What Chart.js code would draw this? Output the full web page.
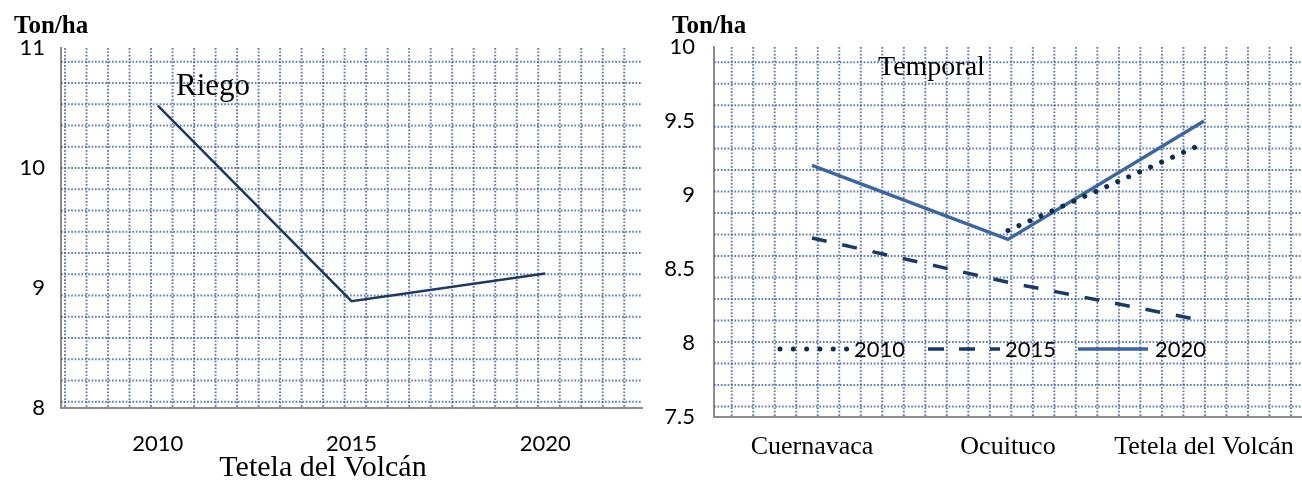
<!DOCTYPE html>
<html><head><meta charset="utf-8">
<script src="https://cdn.jsdelivr.net/npm/chart.js@4.4.1/dist/chart.umd.min.js"></script>
<style>
html,body{margin:0;padding:0;background:#fff;}
#wrap{position:relative;width:1302px;height:493px;overflow:hidden;background:#fff;}
.box{position:absolute;top:0;height:493px;}
#b1{left:0;width:660px;} #b2{left:660px;width:642px;}
</style></head><body>
<div id="wrap"><div class="box" id="b1"><canvas id="c1"></canvas></div><div class="box" id="b2"><canvas id="c2"></canvas></div></div>
<script>
// ---- data ----
const riegoYears = ['2010', '2015', '2020'];
const riegoValues = [10.52, 8.89, 9.12];
const riegoTicks = [8, 9, 10, 11];

const temporalPlaces = ['Cuernavaca', 'Ocuituco', 'Tetela del Volcán'];
const temporal2010 = [null, 8.76, 9.35];
const temporal2015 = [8.71, 8.41, 8.15];
const temporal2020 = [9.20, 8.70, 9.50];
const seriesNames = ['2010', '2015', '2020'];
const temporalTicks = [7.5, 8, 8.5, 9, 9.5, 10];

// ---- plugins ----
const graphPaper = {
  id: 'graphPaper',
  beforeDatasetsDraw(chart, args, o) {
    const {ctx, chartArea: a} = chart;
    ctx.save();
    ctx.beginPath(); ctx.rect(a.left, a.top, a.right - a.left, a.bottom - a.top); ctx.clip();
    ctx.strokeStyle = o.color; ctx.lineWidth = o.width; ctx.setLineDash(o.dash);
    for (let x = o.x0; x < a.right; x += o.stepX) {
      ctx.beginPath(); ctx.moveTo(x, a.top); ctx.lineTo(x, a.bottom); ctx.stroke();
    }
    for (let y = o.y0; y < a.bottom; y += o.stepY) {
      ctx.beginPath(); ctx.moveTo(a.left, y); ctx.lineTo(a.right, y); ctx.stroke();
    }
    ctx.restore();
  }
};
const texts = {
  id: 'texts',
  afterDraw(chart, args, o) {
    const ctx = chart.ctx;
    ctx.save();
    (o.items || []).forEach(t => {
      ctx.font = t.font; ctx.fillStyle = '#000'; ctx.textAlign = t.align || 'left'; ctx.textBaseline = 'alphabetic';
      ctx.fillText(t.text, t.x, t.y);
    });
    ctx.restore();
  }
};
const inlineLegend = {
  id: 'inlineLegend',
  afterDatasetsDraw(chart, args, o) {
    if (!o.items) return;
    const ctx = chart.ctx;
    ctx.save();
    chart.data.datasets.forEach((ds, i) => {
      const it = o.items[i];
      ctx.strokeStyle = ds.borderColor; ctx.lineWidth = ds.borderWidth;
      ctx.lineCap = ds.borderCapStyle || 'butt';
      ctx.setLineDash(it.dash || ds.borderDash || []);
      ctx.beginPath(); ctx.moveTo(it.x1, o.y); ctx.lineTo(it.x2, o.y); ctx.stroke();
      ctx.setLineDash([]);
      ctx.font = o.font; ctx.fillStyle = '#000'; ctx.textAlign = 'left'; ctx.textBaseline = 'middle';
      ctx.fillText(ds.label, it.tx, o.y + 1);
    });
    ctx.restore();
  }
};

const tickFont = {family: 'Lato', size: 22};
const axisBorder = {display: true, color: '#8c8c8c', width: 2};
const fmt = v => String(v);
const paperStyle = {color: 'rgba(58,92,148,0.78)', width: 2, dash: [1.7, 1.7]};
const noSidePad = s => { s.paddingLeft = 0; s.paddingRight = 0; };

// ---- left chart: Riego ----
new Chart(document.getElementById('c1'), {
  type: 'line',
  data: {
    labels: riegoYears,
    datasets: [{
      label: 'Riego', data: riegoValues,
      borderColor: '#1f3861', borderWidth: 2.5, pointRadius: 0, tension: 0
    }]
  },
  options: {
    responsive: true, maintainAspectRatio: false, animation: false, devicePixelRatio: 1,
    layout: {padding: {top: 48, right: 18, left: 0, bottom: 0}},
    plugins: {
      legend: {display: false}, tooltip: {enabled: false},
      graphPaper: Object.assign({x0: 65, stepX: 21.51, y0: 61.7, stepY: 21.25}, paperStyle),
      texts: {items: [
        {text: 'Ton/ha', x: 14, y: 33, font: 'bold 25px "Liberation Serif"'},
        {text: 'Riego', x: 176, y: 95, font: '31px "Liberation Serif"'},
        {text: 'Tetela del Volcán', x: 323, y: 476, align: 'center', font: '30px "Liberation Serif"'}
      ]}
    },
    scales: {
      x: {
        type: 'category', offset: true,
        grid: {display: false, drawTicks: false}, border: axisBorder,
        ticks: {font: tickFont, color: '#000', padding: 23},
        afterFit: s => { s.height = 85; noSidePad(s); }
      },
      y: {
        min: 8, max: 11,
        grid: {display: false, drawTicks: false}, border: axisBorder,
        ticks: {font: tickFont, color: '#000', padding: 16, callback: fmt},
        afterBuildTicks: s => { s.ticks = riegoTicks.map(v => ({value: v})); },
        afterFit: s => { s.width = 61; }
      }
    }
  },
  plugins: [graphPaper, texts]
});

// ---- right chart: Temporal ----
new Chart(document.getElementById('c2'), {
  type: 'line',
  data: {
    labels: temporalPlaces,
    datasets: [
      {label: seriesNames[0], data: temporal2010, borderColor: '#112b4d', borderWidth: 5, borderDash: [0.01, 12], borderCapStyle: 'round', pointRadius: 0, tension: 0, spanGaps: false},
      {label: seriesNames[1], data: temporal2015, borderColor: '#1b3a63', borderWidth: 3.5, borderDash: [15, 16], pointRadius: 0, tension: 0},
      {label: seriesNames[2], data: temporal2020, borderColor: '#3e659c', borderWidth: 3.5, pointRadius: 0, tension: 0}
    ]
  },
  options: {
    responsive: true, maintainAspectRatio: false, animation: false, devicePixelRatio: 1,
    layout: {padding: {top: 47, right: 0, left: 0, bottom: 0}},
    plugins: {
      legend: {display: false}, tooltip: {enabled: false},
      graphPaper: Object.assign({x0: 71.7, stepX: 21.51, y0: 62.3, stepY: 21.52}, paperStyle),
      inlineLegend: {
        y: 349, font: '22px Lato',
        items: [
          {x1: 120, x2: 188, tx: 194, dash: [0.01, 13.3]},
          {x1: 268, x2: 340, tx: 345, dash: [16, 15]},
          {x1: 418, x2: 488, tx: 495}
        ]
      },
      texts: {items: [
        {text: 'Ton/ha', x: 12, y: 33, font: 'bold 25px "Liberation Serif"'},
        {text: 'Temporal', x: 218, y: 75, font: '28px "Liberation Serif"'}
      ]}
    },
    scales: {
      x: {
        type: 'category', offset: true,
        grid: {display: false, drawTicks: false}, border: axisBorder,
        ticks: {font: {family: 'Liberation Serif', size: 26}, color: '#000', padding: 15},
        afterFit: s => { s.height = 76; noSidePad(s); }
      },
      y: {
        min: 7.5, max: 10,
        grid: {display: false, drawTicks: false}, border: axisBorder,
        ticks: {font: tickFont, color: '#000', padding: 19, callback: fmt},
        afterBuildTicks: s => { s.ticks = temporalTicks.map(v => ({value: v})); },
        afterFit: s => { s.width = 54; }
      }
    }
  },
  plugins: [graphPaper, inlineLegend, texts]
});
</script>
</body></html>
